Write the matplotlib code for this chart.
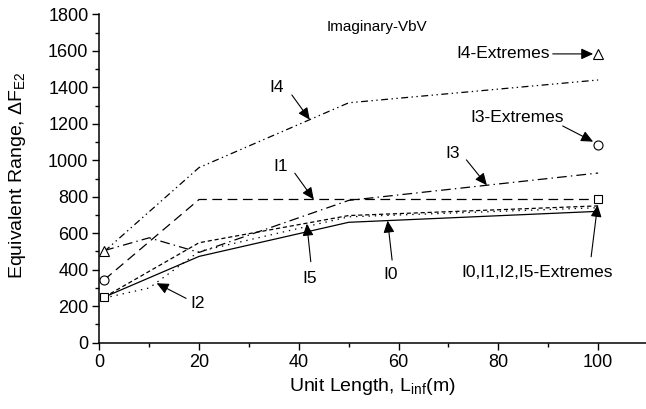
import numpy as np
import matplotlib
matplotlib.use('Agg')
import matplotlib.pyplot as plt
from matplotlib import rcParams
from matplotlib.ticker import MultipleLocator

rcParams['font.family'] = ['Liberation Sans', 'DejaVu Sans']
rcParams['mathtext.fontset'] = 'custom'
rcParams['mathtext.rm'] = 'Liberation Sans'
rcParams['mathtext.it'] = 'Liberation Sans:italic'
rcParams['lines.scale_dashes'] = False

# unit length (m)
x = [1, 20, 50, 100]
x_fine = [1, 10, 20, 50, 100]

# equivalent range per case
i0 = [250, 473, 660, 720]
i1 = [345, 785, 785, 785]
i2 = [245, 300, 500, 690, 740]
i3 = [505, 575, 495, 780, 930]
i4 = [500, 960, 1315, 1440]
i5 = [250, 548, 697, 750]

# extremes
ext_x = [1, 100]
ext_i0125 = [250, 790]
ext_i3 = [345, 1085]
ext_i4 = [505, 1580]

fig = plt.figure(figsize=(6.46, 4.09), dpi=100)
ax = fig.add_axes([0.1537, 0.1621, 0.8463, 0.8029])

lw = 0.9
ax.plot(x, i0, color='k', lw=lw)
ax.plot(x, i1, color='k', lw=lw, dashes=(7, 4))
ax.plot(x_fine, i2, color='k', lw=lw, dashes=(1, 3.5))
ax.plot(x_fine, i3, color='k', lw=lw, dashes=(7, 3, 1, 3))
ax.plot(x, i4, color='k', lw=lw, dashes=(5, 2.5, 1, 2.5, 1, 2.5))
ax.plot(x, i5, color='k', lw=lw, dashes=(3, 2))

mk = dict(ls='none', mfc='white', mec='k', mew=0.8, clip_on=False, zorder=3)
ax.plot(ext_x, ext_i0125, marker='s', ms=5.5, **mk)
ax.plot(ext_x, ext_i3, marker='o', ms=6.5, **mk)
ax.plot(ext_x, ext_i4, marker='^', ms=7, **mk)

ap = dict(arrowstyle='-|>,head_length=0.72,head_width=0.33', color='k',
          lw=0.8, mutation_scale=10, shrinkA=0, shrinkB=0)
notes = [
    ('I4', (35.6, 1397), (38.6, 1358), (42.2, 1222)),
    ('I1', (36.3, 965), (39.2, 929), (43.0, 785)),
    ('I3', (70.9, 1039), (73.6, 1002), (77.7, 863)),
    ('I3-Extremes', (83.7, 1232), (92.9, 1188), (99.0, 1102)),
    ('I4-Extremes', (80.9, 1586), (90.9, 1583), (99.0, 1583)),
    ('I0,I1,I2,I5-Extremes', (87.7, 385), (98.6, 471), (99.9, 755)),
    ('I0', (58.4, 372), (58.7, 453), (57.8, 669)),
    ('I5', (42.2, 353), (42.4, 444), (41.6, 652)),
    ('I2', (19.7, 216), (17.4, 243), (11.5, 326)),
]
for txt, pos, tail, tip in notes:
    ax.text(pos[0], pos[1], txt, fontsize=12.5, ha='center', va='center')
    ax.annotate('', xy=tip, xytext=tail, arrowprops=ap)

ax.text(55.7, 1730, 'Imaginary-VbV', fontsize=11, ha='center', va='center')

ax.set_xlim(0, 109.6)
ax.set_ylim(0, 1800)
ax.xaxis.set_major_locator(MultipleLocator(20))
ax.xaxis.set_minor_locator(MultipleLocator(10))
ax.yaxis.set_major_locator(MultipleLocator(200))
ax.yaxis.set_minor_locator(MultipleLocator(100))

for s in ['top', 'right']:
    ax.spines[s].set_visible(False)
for s in ['left', 'bottom']:
    ax.spines[s].set_linewidth(1.1)
ax.tick_params(which='major', direction='out', length=4.8, width=1.0,
               labelsize=13, pad=3)
ax.tick_params(which='minor', direction='out', length=2.6, width=1.0)

ax.set_xlabel('Unit Length, L$_{\\rm inf}$(m)', fontsize=14, labelpad=4)
ax.set_ylabel('Equivalent Range, \u0394F$_{\\rm E2}$', fontsize=14)
ax.yaxis.set_label_coords(-0.13, 0.51)

fig.savefig('out.png', dpi=100)
